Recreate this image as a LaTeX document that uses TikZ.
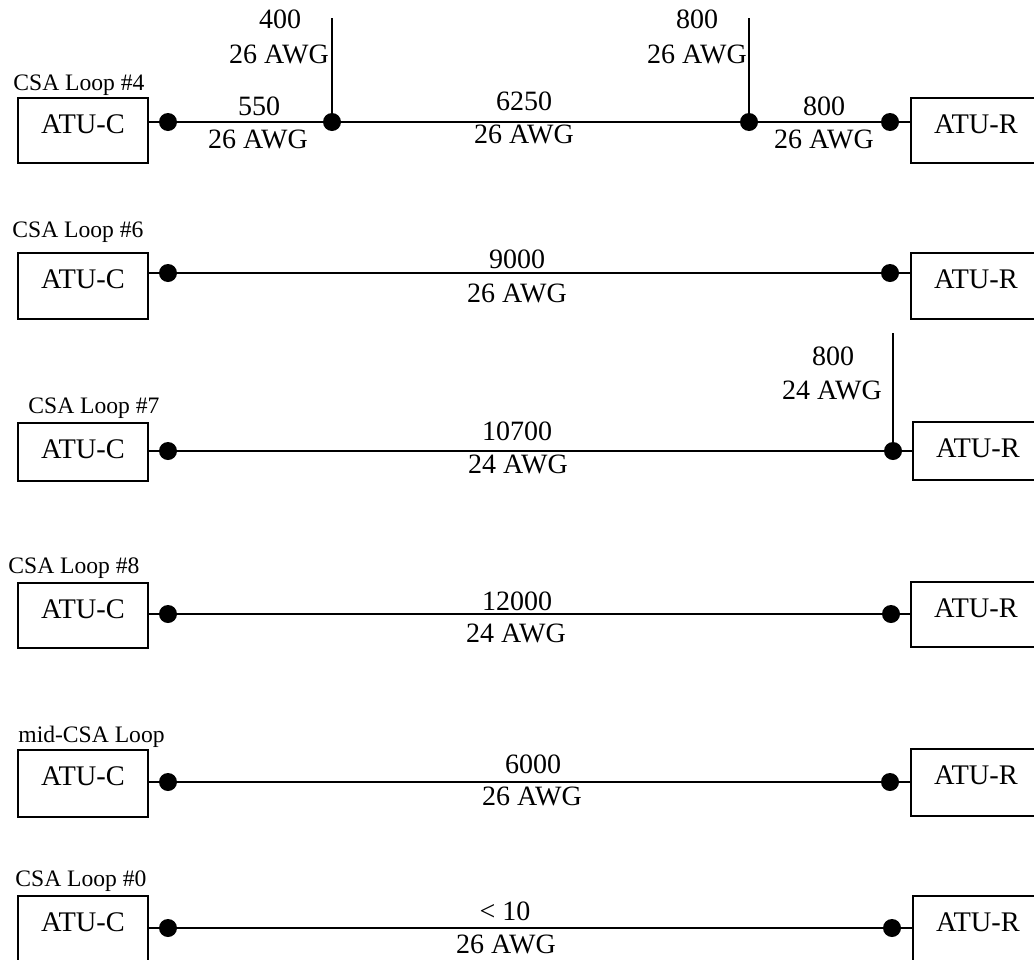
\documentclass[tikz,border=0pt]{standalone}
\usepackage{fontspec}
\setmainfont{Liberation Serif}
\tikzset{
  every picture/.style={x=0.5pt,y=-0.5pt},
  wire/.style={line width=1.2pt},
  unitbox/.style={draw,line width=1.2pt,rectangle,inner sep=0pt,minimum width=65pt,
     text height=17.5pt,anchor=base,font=\fontsize{14.2}{16}\selectfont},
  jdot/.style={circle,fill=black,inner sep=0pt,minimum size=9pt},
  lbl/.style={anchor=base,inner sep=0pt,font=\fontsize{14}{16}\selectfont},
  loopname/.style={anchor=base west,inner sep=0pt,font=\fontsize{11.8}{14}\selectfont}
}
\begin{document}
\begin{tikzpicture}
\useasboundingbox (0,0) rectangle (1034,959);
\clip (0,0) rectangle (1034,959);

% ---------- Row 1: CSA Loop #4 ----------
\node[loopname] (n1) at (13,90) {CSA Loop \#4};
\node[unitbox,text depth=15pt] (c1) at (83,133) {ATU-C};
\node[unitbox,text depth=15pt] (r1) at (976,133) {ATU-R};
\node[jdot] (d1a) at (168,122) {};
\node[jdot] (j1a) at (332,122) {};
\node[jdot] (j1b) at (749,122) {};
\node[jdot] (d1b) at (890,122) {};
\coordinate (t1a) at (332,18);
\coordinate (t1b) at (749,18);
\draw[wire] (c1.east |- d1a) -- (d1a) -- (j1a) -- (j1b) -- (d1b) -- (r1.west |- d1b);
\draw[wire] (t1a) -- (j1a);
\draw[wire] (t1b) -- (j1b);
\node[lbl] at (280,28) {400};
\node[lbl] at (279,63) {26 AWG};
\node[lbl] at (259,115) {550};
\node[lbl] at (258,148) {26 AWG};
\node[lbl] at (524,110) {6250};
\node[lbl] at (524,143) {26 AWG};
\node[lbl] at (697,28) {800};
\node[lbl] at (697,63) {26 AWG};
\node[lbl] at (824,115) {800};
\node[lbl] at (824,148) {26 AWG};

% ---------- Row 2: CSA Loop #6 ----------
\node[loopname] (n2) at (12,237) {CSA Loop \#6};
\node[unitbox,text depth=15.5pt] (c2) at (83,288) {ATU-C};
\node[unitbox,text depth=15.5pt] (r2) at (976,288) {ATU-R};
\node[jdot] (d2a) at (168,273) {};
\node[jdot] (d2b) at (890,273) {};
\draw[wire] (c2.east |- d2a) -- (d2a) -- (d2b) -- (r2.west |- d2b);
\node[lbl] at (517,268) {9000};
\node[lbl] at (517,302) {26 AWG};

% ---------- Row 3: CSA Loop #7 ----------
\node[loopname] (n3) at (28,413) {CSA Loop \#7};
\node[unitbox,text depth=11.5pt] (c3) at (83,458) {ATU-C};
\node[unitbox,text depth=11.5pt] (r3) at (978,457) {ATU-R};
\node[jdot] (d3a) at (168,451) {};
\node[jdot] (d3b) at (893,451) {};
\coordinate (t3) at (893,333);
\draw[wire] (c3.east |- d3a) -- (d3a) -- (d3b) -- (r3.west |- d3b);
\draw[wire] (t3) -- (d3b);
\node[lbl] at (517,440) {10700};
\node[lbl] at (518,473) {24 AWG};
\node[lbl] at (833,365) {800};
\node[lbl] at (832,399) {24 AWG};

% ---------- Row 4: CSA Loop #8 ----------
\node[loopname] (n4) at (8,573) {CSA Loop \#8};
\node[unitbox,text depth=15pt] (c4) at (83,618) {ATU-C};
\node[unitbox,text depth=15pt] (r4) at (976,617) {ATU-R};
\node[jdot] (d4a) at (168,614) {};
\node[jdot] (d4b) at (891,614) {};
\draw[wire] (c4.east |- d4a) -- (d4a) -- (d4b) -- (r4.west |- d4b);
\node[lbl] at (517,610) {12000};
\node[lbl] at (516,642) {24 AWG};

% ---------- Row 5: mid-CSA Loop ----------
\node[loopname] (n5) at (18,742) {mid-CSA Loop};
\node[unitbox,text depth=16pt] (c5) at (83,785) {ATU-C};
\node[unitbox,text depth=16pt] (r5) at (976,784) {ATU-R};
\node[jdot] (d5a) at (168,782) {};
\node[jdot] (d5b) at (890,782) {};
\draw[wire] (c5.east |- d5a) -- (d5a) -- (d5b) -- (r5.west |- d5b);
\node[lbl] at (533,773) {6000};
\node[lbl] at (532,805) {26 AWG};

% ---------- Row 6: CSA Loop #0 ----------
\node[loopname] (n6) at (15,886) {CSA Loop \#0};
\node[unitbox,text depth=20pt] (c6) at (83,931) {ATU-C};
\node[unitbox,text depth=20pt] (r6) at (978,931) {ATU-R};
\node[jdot] (d6a) at (168,928) {};
\node[jdot] (d6b) at (892,928) {};
\draw[wire] (c6.east |- d6a) -- (d6a) -- (d6b) -- (r6.west |- d6b);
\node[lbl] at (505,920) {< 10};
\node[lbl] at (506,953) {26 AWG};
\end{tikzpicture}
\end{document}
